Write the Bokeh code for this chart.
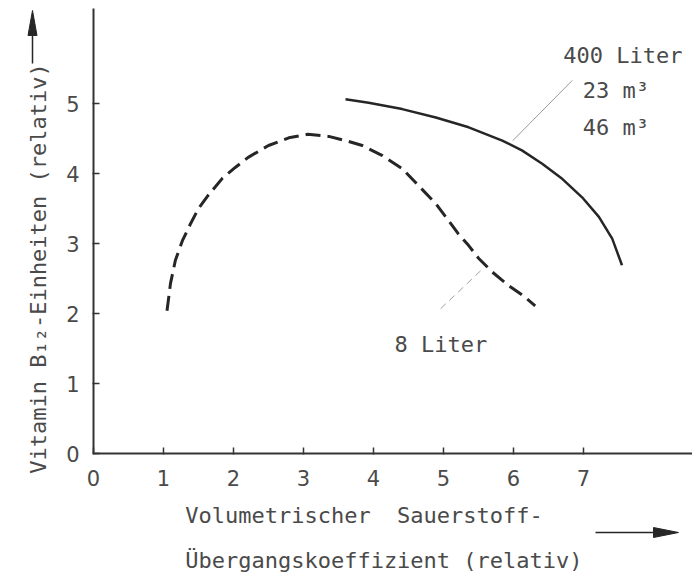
from bokeh.plotting import figure
from bokeh.models import Range1d, FixedTicker, Label, LinearAxis
from bokeh.embed import file_html
from bokeh.resources import INLINE

# 8-litre fermenter (dashed curve)
small_x = [1.05, 1.10, 1.17, 1.27, 1.39, 1.50, 1.64, 1.84, 2.03, 2.21, 2.50, 2.79, 3.06, 3.36,
           3.60, 3.84, 4.12, 4.41, 4.64, 4.89, 5.07, 5.21, 5.36, 5.50, 5.70, 5.93, 6.13, 6.31]
small_y = [2.04, 2.43, 2.76, 3.04, 3.29, 3.50, 3.69, 3.93, 4.09, 4.23, 4.40, 4.51, 4.56, 4.53,
           4.47, 4.40, 4.26, 4.07, 3.83, 3.57, 3.33, 3.14, 2.97, 2.79, 2.59, 2.40, 2.26, 2.11]

# 400 litre / 23 m3 / 46 m3 fermenters (solid curve)
large_x = [3.60, 3.93, 4.41, 4.89, 5.36, 5.84, 6.12, 6.41, 6.70, 6.98, 7.22, 7.41, 7.55]
large_y = [5.06, 5.01, 4.92, 4.80, 4.66, 4.47, 4.33, 4.14, 3.92, 3.66, 3.38, 3.07, 2.69]

# leader lines from the curve labels to the curves
large_leader_x = [5.99, 6.84]
large_leader_y = [4.47, 5.33]
small_leader_x = [5.53, 4.96]
small_leader_y = [2.61, 2.07]

x_ticks = [0, 1, 2, 3, 4, 5, 6, 7]
y_ticks = [0, 1, 2, 3, 4, 5]

FONT = "DejaVu Sans Mono"
TICK_FONT = "DejaVu Sans"
TEXT = "#4a4a4a"
INK = "#262626"
PX = 1 / 70  # one pixel in data units (70 px per unit on both axes)

p = figure(width=692, height=575, output_backend="svg", toolbar_location=None,
           x_range=Range1d(-93 * PX, 599 * PX), y_range=Range1d(-122 * PX, 453 * PX),
           x_axis_type=None, y_axis_type=None, min_border=0)
p.outline_line_color = None
p.background_fill_color = "white"
p.border_fill_color = "white"

xaxis = LinearAxis(fixed_location=0, bounds=(0, 599 * PX), ticker=FixedTicker(ticks=x_ticks))
yaxis = LinearAxis(fixed_location=0, bounds=(0, 445 * PX), ticker=FixedTicker(ticks=y_ticks))
p.add_layout(xaxis, "below")
p.add_layout(yaxis, "left")

for ax in (xaxis, yaxis):
    ax.axis_line_color = "#333333"
    ax.axis_line_width = 2
    ax.major_tick_line_color = "#333333"
    ax.major_tick_line_width = 1.5
    ax.major_tick_in = 6
    ax.major_tick_out = 1
    ax.minor_tick_line_color = None
    ax.major_label_text_font = TICK_FONT
    ax.major_label_text_font_size = "21px"
    ax.major_label_text_color = TEXT
xaxis.major_label_standoff = 15
yaxis.major_label_standoff = 13

# curves
p.line(small_x, small_y, line_color=INK, line_width=3, line_dash="15 7")
p.line(large_x, large_y, line_color=INK, line_width=2.5)

# leaders
p.line(large_leader_x, large_leader_y, line_color="#9a9a9a", line_width=1)
p.line(small_leader_x, small_leader_y, line_color="#a0a0a0", line_width=1, line_dash="7 5")


def text(x, y, s, angle=0.0, size="22px"):
    p.add_layout(Label(x=x, y=y, text=s, angle=angle, text_font=FONT,
                       text_font_size=size, text_color=TEXT,
                       text_baseline="alphabetic", text_align="left"))


text(6.71, 5.69, "400 Liter")
text(6.99, 5.19, "23 m³")
text(6.99, 4.66, "46 m³")
text(4.30, 1.56, "8 Liter")

# axis titles
text(1.31, -0.88, "Volumetrischer\u00a0\u00a0Sauerstoff-")
text(1.31, -1.53, "Übergangskoeffizient (relativ)")
text(-0.79, -0.29, "Vitamin B₁₂-Einheiten (relativ)", angle=1.5708)


def arrow(x0, y0, x1, y1, head_len, half_w):
    """Shaft plus a slim filled head, pointing from (x0, y0) to (x1, y1)."""
    if y0 == y1:
        hx, hy = x1 - head_len, y1
        p.line([x0, hx], [y0, hy], line_color=INK, line_width=1.5)
        p.patch([hx, x1, hx], [hy - half_w, y1, hy + half_w], fill_color=INK, line_color=INK)
    else:
        hx, hy = x1, y1 - head_len
        p.line([x0, hx], [y0, hy], line_color=INK, line_width=1.5)
        p.patch([hx - half_w, x1, hx + half_w], [hy, y1, hy], fill_color=INK, line_color=INK)


arrow(502 * PX, -79 * PX, 585 * PX, -79 * PX, 25 * PX, 5 * PX)
arrow(-61 * PX, 390 * PX, -61 * PX, 443 * PX, 25 * PX, 4.5 * PX)

open("out.html", "w").write(file_html(p, INLINE))
